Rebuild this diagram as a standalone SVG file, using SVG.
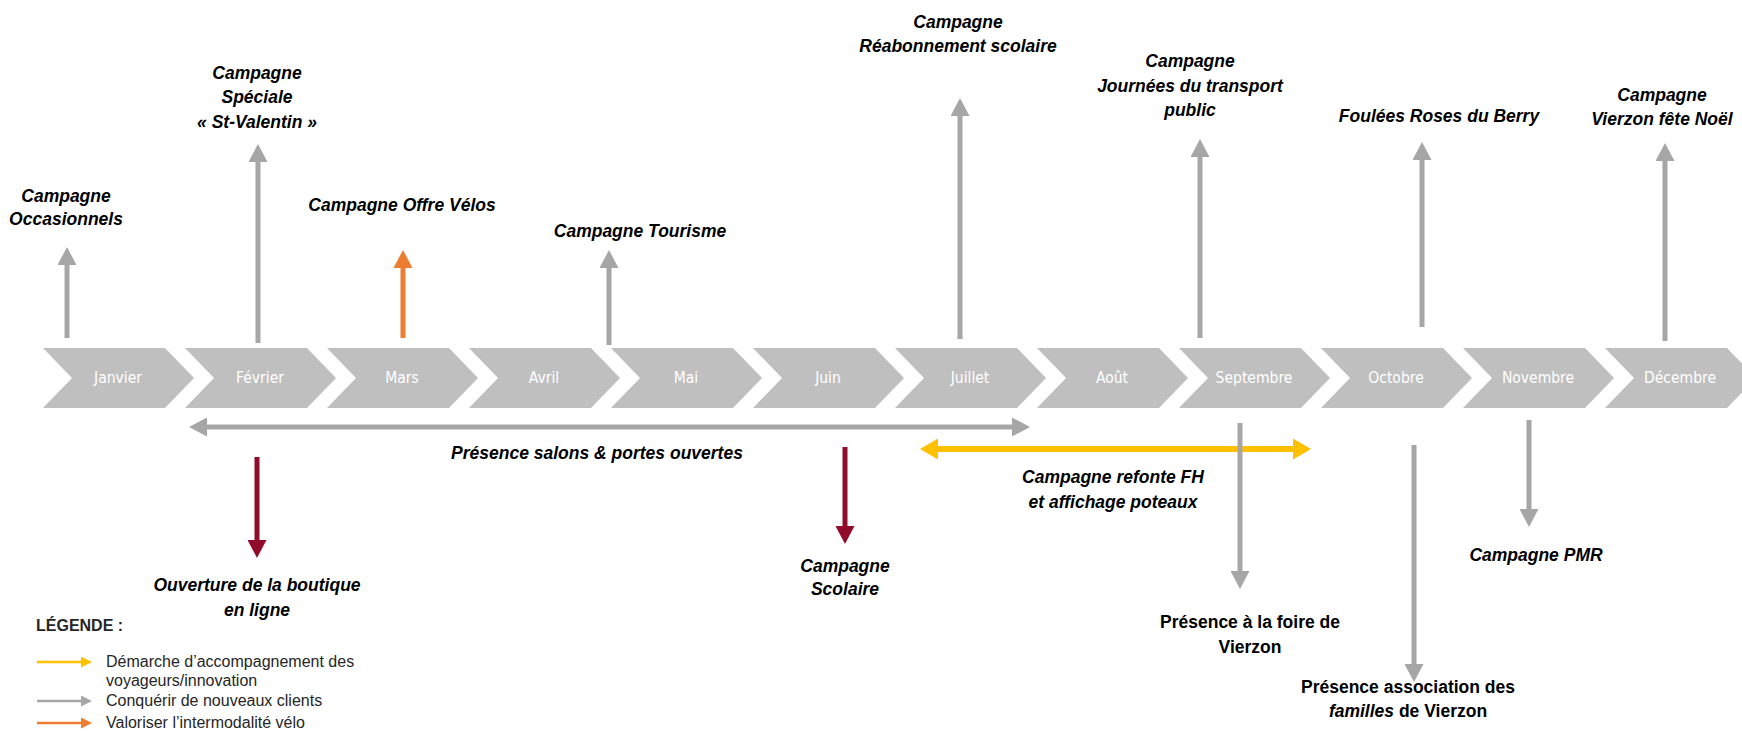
<svg xmlns="http://www.w3.org/2000/svg" width="1742" height="731" viewBox="0 0 1742 731">
<style>
.chev{fill:#BFBFBF}
.mon{font-family:"DejaVu Sans Condensed","DejaVu Sans",sans-serif;font-size:15.5px;fill:#FFFFFF;text-anchor:middle}
.lbl{font-family:"Liberation Sans",Arial,sans-serif;font-size:17.5px;font-weight:bold;font-style:italic;fill:#000;text-anchor:middle}
.lbn{font-family:"Liberation Sans",Arial,sans-serif;font-size:17.5px;font-weight:bold;fill:#000;text-anchor:middle}
.leg{font-family:"Liberation Sans",Arial,sans-serif;font-size:16px;fill:#262626}
.g{stroke:#A6A6A6;stroke-width:5;fill:none}
.o{stroke:#ED7D31;stroke-width:5;fill:none}
.r{stroke:#900C2A;stroke-width:5;fill:none}
.y{stroke:#FFC000;stroke-width:6;fill:none}
</style>
<defs>
<marker id="hg" markerUnits="userSpaceOnUse" markerWidth="18" markerHeight="19" refX="0" refY="9.5" orient="auto-start-reverse"><path d="M0,0 L18,9.5 L0,19 z" fill="#A6A6A6"/></marker>
<marker id="ho" markerUnits="userSpaceOnUse" markerWidth="18" markerHeight="19" refX="0" refY="9.5" orient="auto"><path d="M0,0 L18,9.5 L0,19 z" fill="#ED7D31"/></marker>
<marker id="hr" markerUnits="userSpaceOnUse" markerWidth="18" markerHeight="19" refX="0" refY="9.5" orient="auto"><path d="M0,0 L18,9.5 L0,19 z" fill="#900C2A"/></marker>
<marker id="hy" markerUnits="userSpaceOnUse" markerWidth="18" markerHeight="21" refX="0" refY="10.5" orient="auto-start-reverse"><path d="M0,0 L18,10.5 L0,21 z" fill="#FFC000"/></marker>
<marker id="lg" markerUnits="userSpaceOnUse" markerWidth="11" markerHeight="11" refX="0" refY="5.5" orient="auto"><path d="M0,0 L11,5.5 L0,11 z" fill="#A6A6A6"/></marker>
<marker id="lo" markerUnits="userSpaceOnUse" markerWidth="11" markerHeight="11" refX="0" refY="5.5" orient="auto"><path d="M0,0 L11,5.5 L0,11 z" fill="#ED7D31"/></marker>
<marker id="ly" markerUnits="userSpaceOnUse" markerWidth="11" markerHeight="11" refX="0" refY="5.5" orient="auto"><path d="M0,0 L11,5.5 L0,11 z" fill="#FFC000"/></marker>
</defs>
<rect width="1742" height="731" fill="#FFFFFF"/>

<g id="months">
<g id="m-janvier"><polygon class="chev" points="43,348 165,348 194,378 165,408 43,408 72,378"/><text class="mon" x="118" y="383">Janvier</text></g>
<g id="m-fevrier"><polygon class="chev" points="185,348 307,348 336,378 307,408 185,408 214,378"/><text class="mon" x="260" y="383">Février</text></g>
<g id="m-mars"><polygon class="chev" points="327,348 449,348 478,378 449,408 327,408 356,378"/><text class="mon" x="402" y="383">Mars</text></g>
<g id="m-avril"><polygon class="chev" points="469,348 591,348 620,378 591,408 469,408 498,378"/><text class="mon" x="544" y="383">Avril</text></g>
<g id="m-mai"><polygon class="chev" points="611,348 733,348 762,378 733,408 611,408 640,378"/><text class="mon" x="686" y="383">Mai</text></g>
<g id="m-juin"><polygon class="chev" points="753,348 875,348 904,378 875,408 753,408 782,378"/><text class="mon" x="828" y="383">Juin</text></g>
<g id="m-juillet"><polygon class="chev" points="895,348 1017,348 1046,378 1017,408 895,408 924,378"/><text class="mon" x="970" y="383">Juillet</text></g>
<g id="m-aout"><polygon class="chev" points="1037,348 1159,348 1188,378 1159,408 1037,408 1066,378"/><text class="mon" x="1112" y="383">Août</text></g>
<g id="m-septembre"><polygon class="chev" points="1179,348 1301,348 1330,378 1301,408 1179,408 1208,378"/><text class="mon" x="1254" y="383">Septembre</text></g>
<g id="m-octobre"><polygon class="chev" points="1321,348 1443,348 1472,378 1443,408 1321,408 1350,378"/><text class="mon" x="1396" y="383">Octobre</text></g>
<g id="m-novembre"><polygon class="chev" points="1463,348 1585,348 1614,378 1585,408 1463,408 1492,378"/><text class="mon" x="1538" y="383">Novembre</text></g>
<g id="m-decembre"><polygon class="chev" points="1605,348 1727,348 1756,378 1727,408 1605,408 1634,378"/><text class="mon" x="1680" y="383">Décembre</text></g>
</g>

<g id="connectors">
<line class="g" x1="67" y1="338" x2="67" y2="265" marker-end="url(#hg)"/>
<line class="g" x1="258" y1="343" x2="258" y2="162" marker-end="url(#hg)"/>
<line class="o" x1="403" y1="338" x2="403" y2="268" marker-end="url(#ho)"/>
<line class="g" x1="609" y1="345" x2="609" y2="268" marker-end="url(#hg)"/>
<line class="g" x1="960" y1="339" x2="960" y2="116" marker-end="url(#hg)"/>
<line class="g" x1="1200" y1="338" x2="1200" y2="157" marker-end="url(#hg)"/>
<line class="g" x1="1422" y1="327" x2="1422" y2="160" marker-end="url(#hg)"/>
<line class="g" x1="1665" y1="341" x2="1665" y2="161" marker-end="url(#hg)"/>
<line class="g" x1="207" y1="427" x2="1012" y2="427" marker-start="url(#hg)" marker-end="url(#hg)"/>
<line class="y" x1="938" y1="449" x2="1293" y2="449" marker-start="url(#hy)" marker-end="url(#hy)"/>
<line class="r" x1="257" y1="457" x2="257" y2="540" marker-end="url(#hr)"/>
<line class="r" x1="845" y1="447" x2="845" y2="526" marker-end="url(#hr)"/>
<line class="g" x1="1240" y1="423" x2="1240" y2="571" marker-end="url(#hg)"/>
<line class="g" x1="1414" y1="445" x2="1414" y2="664" marker-end="url(#hg)"/>
<line class="g" x1="1529" y1="420" x2="1529" y2="509" marker-end="url(#hg)"/>
</g>

<g id="n-occasionnels"><text class="lbl" x="66" y="202">Campagne</text><text class="lbl" x="66" y="225">Occasionnels</text></g>
<g id="n-stvalentin"><text class="lbl" x="257" y="79">Campagne</text><text class="lbl" x="257" y="103">Spéciale</text><text class="lbl" x="257" y="128">« St-Valentin »</text></g>
<g id="n-velos"><text class="lbl" x="402" y="211">Campagne Offre Vélos</text></g>
<g id="n-tourisme"><text class="lbl" x="640" y="237">Campagne Tourisme</text></g>
<g id="n-reabonnement"><text class="lbl" x="958" y="28">Campagne</text><text class="lbl" x="958" y="52">Réabonnement scolaire</text></g>
<g id="n-journees"><text class="lbl" x="1190" y="67">Campagne</text><text class="lbl" x="1190" y="92">Journées du transport</text><text class="lbl" x="1190" y="116">public</text></g>
<g id="n-foulees"><text class="lbl" x="1439" y="122">Foulées Roses du Berry</text></g>
<g id="n-noel"><text class="lbl" x="1662" y="101">Campagne</text><text class="lbl" x="1662" y="125">Vierzon fête Noël</text></g>
<g id="n-salons"><text class="lbl" x="597" y="459">Présence salons &amp; portes ouvertes</text></g>
<g id="n-boutique"><text class="lbl" x="257" y="591">Ouverture de la boutique</text><text class="lbl" x="257" y="616">en ligne</text></g>
<g id="n-scolaire"><text class="lbl" x="845" y="572">Campagne</text><text class="lbl" x="845" y="595">Scolaire</text></g>
<g id="n-refonte"><text class="lbl" x="1113" y="483">Campagne refonte FH</text><text class="lbl" x="1113" y="508">et affichage poteaux</text></g>
<g id="n-foire"><text class="lbn" x="1250" y="628">Présence à la foire de</text><text class="lbn" x="1250" y="653">Vierzon</text></g>
<g id="n-association"><text class="lbn" x="1408" y="693">Présence association des</text><text class="lbn" x="1408" y="717"><tspan font-style="italic">familles</tspan> de Vierzon</text></g>
<g id="n-pmr"><text class="lbl" x="1536" y="561">Campagne PMR</text></g>

<g id="legend">
<text class="leg" x="36" y="631" font-weight="bold">LÉGENDE :</text>
<line x1="37" y1="662" x2="81" y2="662" stroke="#FFC000" stroke-width="2.5" marker-end="url(#ly)"/>
<text class="leg" x="106" y="667">Démarche d’accompagnement des</text>
<text class="leg" x="106" y="686">voyageurs/innovation</text>
<line x1="37" y1="701" x2="81" y2="701" stroke="#A6A6A6" stroke-width="2.5" marker-end="url(#lg)"/>
<text class="leg" x="106" y="706">Conquérir de nouveaux clients</text>
<line x1="37" y1="723" x2="81" y2="723" stroke="#ED7D31" stroke-width="2.5" marker-end="url(#lo)"/>
<text class="leg" x="106" y="728">Valoriser l’intermodalité vélo</text>
</g>
</svg>
